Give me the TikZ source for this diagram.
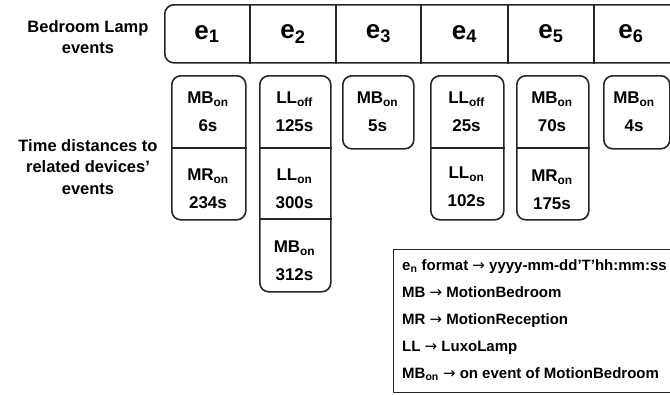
\documentclass[tikz,border=0pt]{standalone}
\usepackage{fontspec}
\setmainfont{Liberation Sans}
\newfontfamily\arrfont{DejaVu Sans}
\newcommand\rarr{{\arrfont\mdseries →}}
\begin{document}
\begin{tikzpicture}[x=1pt,y=-1pt,line join=round,
  frame/.style={draw=black!85,line width=1.6pt},
  colbox/.style={draw=black!85,line width=1.6pt,rounded corners=9pt,inner sep=0pt,anchor=north west},
  lbl/.style={font=\fontsize{16.5}{21.5}\selectfont\bfseries,align=center},
  cell/.style={font=\fontsize{17}{28}\selectfont\bfseries,align=center},
  ev/.style={font=\fontsize{26}{30}\selectfont\bfseries},
  leg/.style={font=\fontsize{15}{17}\selectfont\bfseries,anchor=base west,inner sep=0pt}]
\clip (0,0) rectangle (670,394);
% top bar
\node[frame,rounded corners=9pt,inner sep=0pt,anchor=north west,minimum width=540pt,minimum height=58pt] (bar) at (164,4) {};
\foreach \x in {250,336,421,508,594}{\draw[frame,line width=1.4pt] (bar.north -| \x,0) -- (bar.south -| \x,0);}
\node[ev] (e1) at (207,34) {e\textsubscript{1}};
\node[ev] (e2) at (293,34) {e\textsubscript{2}};
\node[ev] (e3) at (378.5,34) {e\textsubscript{3}};
\node[ev] (e4) at (464.5,34) {e\textsubscript{4}};
\node[ev] (e5) at (551,34) {e\textsubscript{5}};
\node[ev] (e6) at (631,34) {e\textsubscript{6}};
% left labels
\node[lbl] (bl) at (88,37) {Bedroom Lamp\\events};
\node[lbl] (td) at (88,167) {Time distances to\\related devices’\\events};
% column boxes
\node[colbox,minimum width=74pt,minimum height=144pt] (b1) at (171,75) {};
\node[colbox,minimum width=71pt,minimum height=216pt] (b2) at (259,75) {};
\node[colbox,minimum width=71pt,minimum height=73pt] (b3) at (342,75) {};
\node[colbox,minimum width=73pt,minimum height=144pt] (b4) at (430,75) {};
\node[colbox,minimum width=72pt,minimum height=144pt] (b5) at (516,75) {};
\node[colbox,minimum width=66pt,minimum height=73pt] (b6) at (603,75) {};
\draw[frame] (b1.west |- 0,148) -- (b1.east |- 0,148);
\draw[frame] (b2.west |- 0,148) -- (b2.east |- 0,148);
\draw[frame] (b2.west |- 0,219) -- (b2.east |- 0,219);
\draw[frame] (b4.west |- 0,148) -- (b4.east |- 0,148);
\draw[frame] (b5.west |- 0,148) -- (b5.east |- 0,148);
% cell texts
\node[cell] (c11) at (208,112) {MB\textsubscript{on}\\6s};
\node[cell] (c12) at (208,189) {MR\textsubscript{on}\\234s};
\node[cell] (c21) at (294.5,112) {LL\textsubscript{off}\\125s};
\node[cell] (c22) at (294.5,189) {LL\textsubscript{on}\\300s};
\node[cell] (c23) at (294.5,261) {MB\textsubscript{on}\\312s};
\node[cell] (c31) at (377.5,112) {MB\textsubscript{on}\\5s};
\node[cell] (c41) at (466.5,112) {LL\textsubscript{off}\\25s};
\node[cell] (c42) at (466.5,187) {LL\textsubscript{on}\\102s};
\node[cell] (c51) at (552,112) {MB\textsubscript{on}\\70s};
\node[cell] (c52) at (552,190) {MR\textsubscript{on}\\175s};
\node[cell] (c61) at (634,112) {MB\textsubscript{on}\\4s};
% legend
\node[frame,line width=1.2pt,inner sep=0pt,anchor=north west,minimum width=300pt,minimum height=143pt] (lg) at (393,249) {};
\node[leg] (l1) at (402,270) {e\textsubscript{n} format \rarr\ yyyy-mm-dd’T’hh:mm:ss};
\node[leg] (l2) at (402,297) {MB \rarr\ MotionBedroom};
\node[leg] (l3) at (402,324) {MR \rarr\ MotionReception};
\node[leg] (l4) at (402,351) {LL \rarr\ LuxoLamp};
\node[leg] (l5) at (402,378) {MB\textsubscript{on} \rarr\ on event of MotionBedroom};
\end{tikzpicture}
\end{document}
